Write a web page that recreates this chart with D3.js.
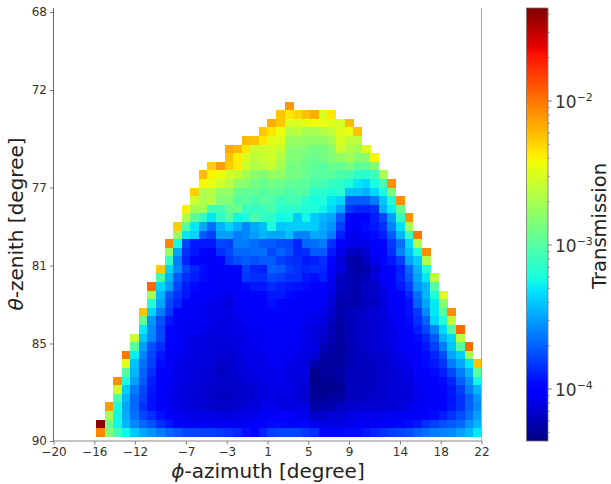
<!DOCTYPE html>
<html><head><meta charset="utf-8">
<script src="https://cdn.jsdelivr.net/npm/d3@7"></script>
<style>html,body{margin:0;padding:0;background:#fff}svg{display:block}text{font-family:"DejaVu Sans",sans-serif}</style>
</head><body><svg id="c" width="611" height="484"></svg>
<script>
const phiTicks=[-20,-16,-12,-7,-3,1,5,9,14,18,22];
const thetaTicks=[68,72,77,81,85,90];
const firstPhi=-15.83, phiStep=0.841, firstTheta=72.6, thetaStep=0.4405;
// index of the first occupied phi bin for every theta row
const rowStart=[22,21,20,19,17,15,15,13,12,12,11,11,10,10,9,9,8,8,8,7,7,6,6,6,5,5,5,4,4,3,3,3,2,2,2,1,1,0,0];
// -100*log10(transmission), one row per theta bin, from the top
const attenuation=[
[211],
[225,236,232,224,218,252,236],
[218,226,252,252,248,244,246,250,254,222],
[226,236,245,265,262,270,270,266,262,250,246,225],
[222,224,236,248,250,276,276,278,278,278,272,252,262,262],
[216,222,236,256,256,254,258,282,282,284,288,288,280,258,268,272,250],
[224,238,252,262,258,254,266,284,284,290,292,290,284,278,272,282,280,241],
[228,212,228,238,256,266,262,258,270,288,288,292,296,298,292,294,286,296,296,284],
[222,240,245,256,258,270,280,284,276,278,288,288,294,298,300,298,304,306,314,316,310,268],
[242,246,256,264,278,282,288,294,288,292,296,296,298,304,306,312,314,320,330,335,322,306,208],
[228,268,264,278,276,292,296,296,300,296,298,304,300,302,316,316,320,316,340,342,346,335,322,286],
[256,268,264,284,284,300,298,304,298,302,310,306,306,316,322,320,330,335,372,372,372,362,340,318,208],
[238,272,272,306,306,294,290,310,312,310,304,316,316,316,320,320,326,335,350,382,388,388,385,346,328,292],
[266,296,312,330,314,300,325,322,304,312,316,325,322,338,325,338,345,350,372,398,400,398,390,378,352,312,208],
[228,300,330,348,366,346,336,346,358,348,342,322,340,338,338,338,338,348,355,380,400,402,396,392,385,360,332,270],
[274,330,336,372,380,352,352,362,358,352,345,350,350,342,360,360,348,352,362,390,405,408,400,396,390,372,345,310,200],
[205,325,378,392,392,392,378,380,362,362,366,372,372,376,378,388,368,366,362,385,402,408,410,408,400,398,382,365,335,268],
[276,350,384,392,398,400,385,378,368,368,366,366,378,370,376,388,385,372,372,392,408,416,420,415,404,400,385,360,342,320,208],
[312,362,388,398,400,406,398,382,376,372,375,372,372,380,384,386,392,390,385,398,412,424,426,418,408,402,392,380,350,338,268],
[226,335,358,378,388,395,400,404,400,402,380,388,390,370,372,380,384,388,385,388,402,410,422,426,424,416,405,402,390,368,346,318],
[305,345,372,385,390,396,400,405,404,402,382,385,385,378,380,385,385,392,395,390,405,418,422,424,422,412,404,400,388,372,350,330,262],
[196,335,352,378,390,396,400,402,404,404,406,396,392,392,386,390,392,394,396,400,398,408,420,422,424,418,418,408,402,392,380,355,345,300],
[272,345,372,384,392,402,402,406,406,408,404,402,398,398,392,392,396,398,400,402,404,410,422,422,424,418,416,410,404,400,388,366,345,320,248],
[318,350,378,388,404,404,406,408,410,412,406,404,404,400,394,398,398,402,402,404,406,414,424,424,424,420,418,412,406,402,394,370,350,330,282],
[225,336,362,382,398,404,405,406,408,409,410,406,404,404,402,400,398,402,404,404,406,408,416,424,420,418,416,414,410,406,404,394,382,358,330,300,208],
[295,355,375,392,404,406,406,406,408,410,411,408,405,405,404,402,402,404,404,407,409,410,420,426,422,418,416,415,412,408,405,396,385,370,335,318,262],
[330,358,378,398,404,406,406,408,410,410,411,409,408,406,406,404,404,404,405,409,411,414,422,428,421,418,417,414,412,409,405,402,390,378,360,335,302,196],
[258,340,360,378,398,404,408,410,410,411,412,411,410,408,406,406,405,405,406,406,409,412,416,422,426,421,418,416,414,412,409,406,404,396,388,372,346,335,264],
[300,352,375,385,402,404,408,410,411,412,412,412,411,409,408,406,405,405,406,406,409,410,422,426,428,423,420,416,414,413,410,406,404,400,392,380,362,340,300,196],
[200,328,360,378,392,404,406,409,410,412,412,415,415,412,410,409,408,405,406,406,409,411,412,426,426,428,422,420,418,416,415,412,408,405,404,396,388,376,350,338,270],
[250,342,366,380,396,404,408,410,411,412,413,417,416,413,411,409,409,406,406,409,411,411,424,428,428,428,422,420,420,418,416,413,410,408,404,396,392,384,362,348,330,224],
[300,345,370,385,398,404,409,411,412,413,415,418,417,413,412,410,409,408,408,410,411,411,432,428,428,426,420,420,420,418,416,414,412,409,404,400,396,390,378,362,345,296],
[208,322,352,372,390,398,405,409,411,412,413,415,416,417,416,413,412,410,409,408,410,411,412,434,430,430,428,420,420,420,418,416,414,413,411,405,404,400,396,388,370,355,325],
[255,338,362,378,392,402,406,410,412,413,415,416,417,417,417,416,414,411,409,409,410,412,414,430,432,432,430,420,420,418,418,416,414,413,412,408,404,402,398,392,380,362,345],
[305,345,368,380,394,404,407,410,412,413,415,417,418,418,417,416,413,411,409,412,410,413,415,430,430,426,428,420,420,418,416,416,414,414,412,408,406,404,398,394,384,370,355],
[212,322,350,368,384,394,404,406,410,412,413,415,416,417,416,416,413,412,408,407,410,410,410,410,426,424,424,418,416,416,414,414,414,414,412,408,406,404,402,398,392,384,370,358],
[270,325,348,365,378,385,394,402,406,408,409,409,409,410,411,410,409,408,406,404,404,404,405,407,416,416,414,414,410,408,408,408,407,407,406,406,404,400,396,390,384,376,366,352],
[140,292,325,345,358,368,375,385,392,402,404,406,406,406,406,406,406,406,404,402,396,396,398,398,398,408,410,410,410,408,406,406,406,404,404,400,396,392,384,380,375,372,368,355,346],
[205,284,306,325,340,350,355,362,368,372,378,378,380,380,382,384,388,394,398,388,380,378,378,378,382,386,398,400,400,396,396,392,388,384,380,378,375,370,366,362,360,358,352,345,330]
];
const barMajor=[1e-4,1e-3,1e-2];
const barMinor=[5e-5,6e-5,7e-5,8e-5,9e-5,2e-4,3e-4,4e-4,5e-4,6e-4,7e-4,8e-4,9e-4,2e-3,3e-3,4e-3,5e-3,6e-3,7e-3,8e-3,9e-3,2e-2,3e-2,4e-2];
const barExponents=["\u22124","\u22123","\u22122"];
const barDomain=[10**-4.361,10**-1.354];

const svg=d3.select("#c");
const L=53.5,R=481.5,T=8,B=441,ink="#333";
const x=d3.scaleLinear().domain([-20,22]).range([L,R]);
const y=d3.scaleLinear().domain([90,90-(B-T)/19.5]).range([B,T]);
const norm=d3.scaleLog().domain(barDomain).range([0,1]);
const rS=d3.scaleLinear().domain([0,.35,.66,.89,1]).range([0,0,1,1,.5]).clamp(true);
const gS=d3.scaleLinear().domain([0,.125,.375,.64,.91,1]).range([0,0,1,1,0,0]).clamp(true);
const bS=d3.scaleLinear().domain([0,.11,.34,.65,1]).range([.5,1,1,0,0]).clamp(true);
const jet=t=>d3.rgb(255*rS(t),255*gS(t),255*bS(t)).formatHex();
const colour=v=>jet(norm(v));

const cells=[];
attenuation.forEach((row,r)=>row.forEach((a,k)=>cells.push({
  phi:firstPhi+(rowStart[r]+k)*phiStep,theta:firstTheta+r*thetaStep,v:10**(-a/100)})));
svg.append("g").attr("shape-rendering","crispEdges").selectAll("rect").data(cells).join("rect")
  .attr("x",d=>x(d.phi)).attr("y",d=>y(d.theta))
  .attr("width",d=>x(d.phi+phiStep)-x(d.phi)+.4)
  .attr("height",d=>y(d.theta+thetaStep)-y(d.theta)+.4)
  .attr("fill",d=>colour(d.v));

// axes
const ax=svg.append("g").attr("transform",`translate(0,${B})`)
  .call(d3.axisBottom(x).tickValues(phiTicks).tickFormat(d=>String(d).replace("-","\u2212")).tickSize(3.5).tickPadding(3));
const ay=svg.append("g").attr("transform",`translate(${L},0)`)
  .call(d3.axisLeft(y).tickValues(thetaTicks).tickFormat(d3.format("d")).tickSize(3.5).tickPadding(3));
[ax,ay].forEach(g=>{g.selectAll("text").attr("font-size",12).attr("fill",ink).style("font-family",'"DejaVu Sans"');
  g.selectAll("line").attr("stroke","#555").attr("stroke-width",.8);g.select(".domain").remove();});
svg.append("line").attr("x1",L).attr("x2",L).attr("y1",T).attr("y2",B).attr("stroke","#666").attr("stroke-width",1);
svg.append("line").attr("x1",L).attr("x2",R).attr("y1",B).attr("y2",B).attr("stroke","#888").attr("stroke-width",1);
svg.append("line").attr("x1",R).attr("x2",R).attr("y1",T).attr("y2",B).attr("stroke","#aaa").attr("stroke-width",1);

svg.append("text").attr("x",268).attr("y",478).attr("text-anchor","middle").attr("font-size",20).attr("fill","#222")
  .html('<tspan font-style="italic">\u03d5</tspan>-azimuth [degree]');
svg.append("text").attr("transform","translate(23,224) rotate(-90)").attr("text-anchor","middle").attr("font-size",20).attr("fill","#222")
  .html('<tspan font-style="italic">\u03b8</tspan>-zenith [degree]');

// colour bar
const bx=526.5,bw=21.5;
const yb=d3.scaleLog().domain(barDomain).range([B,T]);
const grad=svg.append("defs").append("linearGradient").attr("id","g").attr("x1",0).attr("x2",0).attr("y1",1).attr("y2",0);
d3.range(0,1.0001,.01).forEach(t=>grad.append("stop").attr("offset",t).attr("stop-color",jet(t)));
svg.append("rect").attr("x",bx).attr("y",T).attr("width",bw).attr("height",B-T).attr("fill","url(#g)").attr("stroke","#777").attr("stroke-width",.8);
svg.append("g").selectAll("line").data(barMinor).join("line").attr("x1",bx+bw).attr("x2",bx+bw+2).attr("y1",yb).attr("y2",yb).attr("stroke","#777").attr("stroke-width",.7);
svg.append("g").selectAll("line").data(barMajor).join("line").attr("x1",bx+bw).attr("x2",bx+bw+4).attr("y1",yb).attr("y2",yb).attr("stroke","#555").attr("stroke-width",.8);
svg.append("g").selectAll("text").data(barMajor).join("text").attr("x",555).attr("y",d=>yb(d)+7).attr("font-size",17).attr("fill",ink)
  .html((d,i)=>`10<tspan dy="-7" font-size="11">${barExponents[i]}</tspan>`);
svg.append("text").attr("transform","translate(605.5,226) rotate(-90)").attr("text-anchor","middle").attr("font-size",19.5).attr("fill","#222").text("Transmission");
</script></body></html>
